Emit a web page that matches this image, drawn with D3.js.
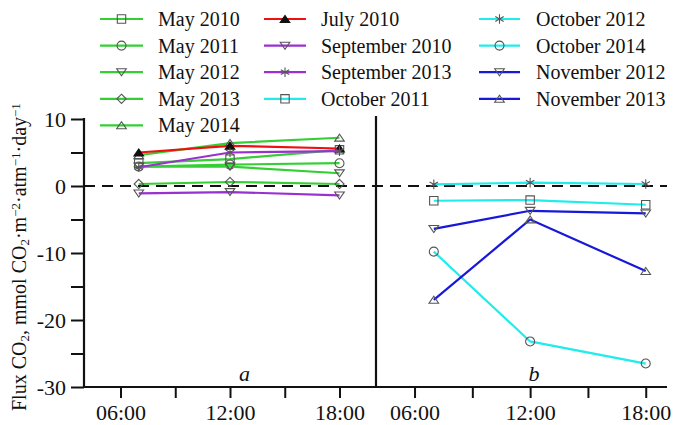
<!DOCTYPE html>
<html><head><meta charset="utf-8">
<script src="https://cdn.jsdelivr.net/npm/d3@7"></script>
<style>
html,body{margin:0;padding:0;background:#fff;}
text{font-family:"Liberation Serif","Times New Roman",serif;fill:#111;}
</style></head>
<body><svg id="c" width="674" height="425"></svg>
<script>
// ---- data ----
const hours = [7, 12, 18];
const xTicks = [6, 9, 12, 15, 18];
const xTickLabels = ["06:00", "", "12:00", "", "18:00"];
const yMajorTicks = [10, 0, -10, -20, -30];
const yMinorTicks = [5, -5, -15, -25];
const seriesLabels = ["May 2010","May 2011","May 2012","May 2013","May 2014",
  "July 2010","September 2010","September 2013","October 2011",
  "October 2012","October 2014","November 2012","November 2013"];
const seriesPanel = ["a","a","a","a","a","a","a","a","b","b","b","b","b"];
const seriesValues = [
  [3.4, 4.0, 5.4],     // May 2010
  [2.9, 3.2, 3.4],     // May 2011
  [2.9, 2.9, 1.9],     // May 2012
  [0.3, 0.6, 0.3],     // May 2013
  [4.6, 6.4, 7.2],     // May 2014
  [5.0, 6.0, 5.6],     // July 2010
  [-1.1, -0.9, -1.4],  // September 2010
  [2.8, 5.0, 5.2],     // September 2013
  [-2.2, -2.1, -2.8],  // October 2011
  [0.25, 0.5, 0.3],    // October 2012
  [-9.8, -23.2, -26.5],// October 2014
  [-6.4, -3.7, -4.1],  // November 2012
  [-17.0, -5.0, -12.7] // November 2013
];
// ---- styles ----
const GREEN="#35cf35", RED="#f01010", PURPLE="#9a30d0", CYAN="#20ecec", BLUE="#1818d8";
const seriesColor = [GREEN,GREEN,GREEN,GREEN,GREEN,RED,PURPLE,PURPLE,CYAN,CYAN,CYAN,BLUE,BLUE];
const seriesMarker = ["square","circle","triDown","diamond","triUp","triUpFilled","triDown","asterisk","square","asterisk","circle","triDown","triUp"];

const svg = d3.select("#c");
const y = d3.scaleLinear().domain([-30, 10]).range([387, 119]);
const xa = d3.scaleLinear().domain([4, 20]).range([84, 376]);
const xb = d3.scaleLinear().domain([4, 19]).range([376, 665]);
const xs = {a: xa, b: xb};

// zero dashed line
svg.append("line").attr("x1", 84).attr("x2", 667).attr("y1", y(0)).attr("y2", y(0))
  .attr("stroke", "#111").attr("stroke-width", 2).attr("stroke-dasharray", "11,7");

// left axis
const yAxis = d3.axisLeft(y).tickValues(yMajorTicks).tickSize(13).tickPadding(5).tickFormat(d => String(d));
const gy = svg.append("g").attr("transform", "translate(84,0)").call(yAxis);
gy.select(".domain").remove();
gy.selectAll(".tick line").attr("stroke", "#111").attr("stroke-width", 2);
gy.selectAll(".tick text").style("font-size", "22px").style("font-family", "Liberation Serif").attr("fill", "#111");
const gym = svg.append("g").attr("transform", "translate(84,0)")
  .call(d3.axisLeft(y).tickValues(yMinorTicks).tickSize(13).tickFormat(""));
gym.select(".domain").remove();
gym.selectAll(".tick line").attr("stroke", "#111").attr("stroke-width", 2);
svg.append("line").attr("x1", 84).attr("x2", 84).attr("y1", 118).attr("y2", 388)
  .attr("stroke", "#111").attr("stroke-width", 2.2);
// divider
svg.append("line").attr("x1", 376).attr("x2", 376).attr("y1", 116).attr("y2", 388)
  .attr("stroke", "#111").attr("stroke-width", 2.2);
// bottom axis
svg.append("line").attr("x1", 83).attr("x2", 667).attr("y1", 387).attr("y2", 387)
  .attr("stroke", "#111").attr("stroke-width", 2.2);
["a","b"].forEach(p => {
  const ax = d3.axisBottom(xs[p]).tickValues(xTicks).tickSize(11).tickPadding(6)
    .tickFormat((d, i) => xTickLabels[i]);
  const g = svg.append("g").attr("transform", "translate(0,387)").call(ax);
  g.select(".domain").remove();
  g.selectAll(".tick line").attr("stroke", "#111").attr("stroke-width", 2);
  g.selectAll(".tick text").style("font-size", "22px").style("font-family", "Liberation Serif").attr("fill", "#111");
});
// panel letters
svg.append("text").attr("x", xa(12.8)).attr("y", 381).attr("text-anchor", "middle")
  .style("font-size", "22px").style("font-style", "italic").text("a");
svg.append("text").attr("x", xb(12.2)).attr("y", 381).attr("text-anchor", "middle")
  .style("font-size", "22px").style("font-style", "italic").text("b");

// y title
const yt = svg.append("text").attr("transform", "translate(26,411) rotate(-90)")
  .style("font-size", "20px");
yt.append("tspan").text("Flux CO");
yt.append("tspan").attr("baseline-shift", "-25%").style("font-size", "13px").text("2");
yt.append("tspan").text(", mmol CO");
yt.append("tspan").attr("baseline-shift", "-25%").style("font-size", "13px").text("2");
yt.append("tspan").text("·m");
yt.append("tspan").attr("baseline-shift", "45%").style("font-size", "13px").text("−2");
yt.append("tspan").text("·atm");
yt.append("tspan").attr("baseline-shift", "45%").style("font-size", "13px").text("−1");
yt.append("tspan").text("·day");
yt.append("tspan").attr("baseline-shift", "45%").style("font-size", "13px").text("−1");

// markers
function markerPath(type) {
  switch (type) {
    case "square": return "M-4.2,-4.2H4.2V4.2H-4.2Z";
    case "circle": return "M4.5,0A4.5,4.5 0 1,1 -4.5,0A4.5,4.5 0 1,1 4.5,0Z";
    case "triDown": return "M-4.8,-3.4L4.8,-3.4L0,3.6Z";
    case "triUp": case "triUpFilled": return "M-4.8,3.4L4.8,3.4L0,-3.6Z";
    case "diamond": return "M0,-4.6L4.6,0L0,4.6L-4.6,0Z";
    case "asterisk": return "M0,-4.8V4.8M-4.2,-2.4L4.2,2.4M-4.2,2.4L4.2,-2.4";
  }
}
function drawMarker(g, type, cx, cy) {
  const filled = type === "triUpFilled";
  g.append("path").attr("d", markerPath(type)).attr("transform", `translate(${cx},${cy})`)
    .attr("fill", filled ? "#111" : "none").attr("stroke", filled ? "#111" : "#555")
    .attr("stroke-width", 1.1);
}

const line = d3.line();
seriesValues.forEach((vals, i) => {
  const x = xs[seriesPanel[i]];
  const pts = vals.map((v, j) => [x(hours[j]), y(v)]);
  const g = svg.append("g");
  g.append("path").attr("d", line(pts)).attr("fill", "none")
    .attr("stroke", seriesColor[i]).attr("stroke-width", 2.2);
  pts.forEach(p => drawMarker(g, seriesMarker[i], p[0], p[1]));
});

// legend
const legCols = [{x1: 100, x2: 143, tx: 158}, {x1: 264, x2: 306, tx: 321}, {x1: 479, x2: 520, tx: 536}];
const legCol = [0,0,0,0,0,1,1,1,1,2,2,2,2];
const legRow = [0,1,2,3,4,0,1,2,3,0,1,2,3];
seriesLabels.forEach((lab, i) => {
  const c = legCols[legCol[i]];
  const cy = 19 + legRow[i] * 26.6;
  const g = svg.append("g");
  g.append("line").attr("x1", c.x1).attr("x2", c.x2).attr("y1", cy).attr("y2", cy)
    .attr("stroke", seriesColor[i]).attr("stroke-width", 2.2);
  drawMarker(g, seriesMarker[i], (c.x1 + c.x2) / 2, cy);
  g.append("text").attr("x", c.tx).attr("y", cy + 7).style("font-size", "20px").text(lab);
});
</script></body></html>
